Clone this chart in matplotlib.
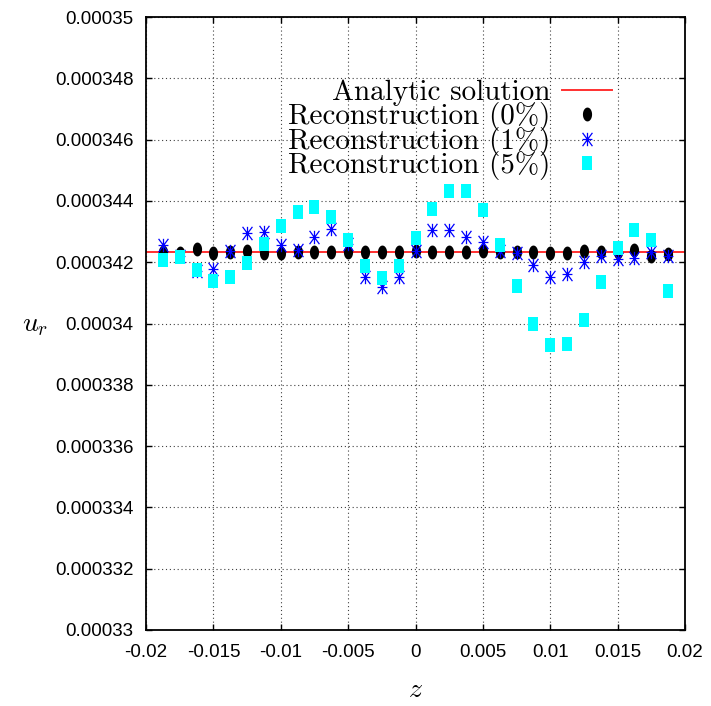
import matplotlib
matplotlib.use('Agg')
import matplotlib.pyplot as plt
import numpy as np
from matplotlib.path import Path
from matplotlib import font_manager
from matplotlib.font_manager import FontProperties

# ---------------- data ----------------
z = np.linspace(-0.01875, 0.01875, 31)
analytic_value = 3.42330e-4
u_rec_0 = [3.42330e-4, 3.42300e-4, 3.42430e-4, 3.42300e-4, 3.42320e-4, 3.42350e-4,
           3.42310e-4, 3.42310e-4, 3.42330e-4, 3.42330e-4, 3.42330e-4, 3.42330e-4,
           3.42320e-4, 3.42320e-4, 3.42340e-4, 3.42360e-4, 3.42330e-4, 3.42330e-4,
           3.42330e-4, 3.42360e-4, 3.42330e-4, 3.42330e-4, 3.42330e-4, 3.42310e-4,
           3.42310e-4, 3.42360e-4, 3.42330e-4, 3.42330e-4, 3.42410e-4, 3.42190e-4,
           3.42280e-4]
u_rec_1 = [3.42550e-4, 3.42200e-4, 3.41720e-4, 3.41780e-4, 3.42350e-4, 3.42960e-4,
           3.42980e-4, 3.42550e-4, 3.42410e-4, 3.42820e-4, 3.43070e-4, 3.42600e-4,
           3.41530e-4, 3.41180e-4, 3.41510e-4, 3.42380e-4, 3.43040e-4, 3.43040e-4,
           3.42820e-4, 3.42660e-4, 3.42350e-4, 3.42300e-4, 3.41910e-4, 3.41530e-4,
           3.41630e-4, 3.42000e-4, 3.42210e-4, 3.42110e-4, 3.42140e-4, 3.42320e-4,
           3.42190e-4]
u_rec_5 = [3.42060e-4, 3.42160e-4, 3.41730e-4, 3.41400e-4, 3.41510e-4, 3.41970e-4,
           3.42580e-4, 3.43180e-4, 3.43640e-4, 3.43800e-4, 3.43480e-4, 3.42710e-4,
           3.41860e-4, 3.41480e-4, 3.41860e-4, 3.42790e-4, 3.43750e-4, 3.44330e-4,
           3.44330e-4, 3.43700e-4, 3.42550e-4, 3.41210e-4, 3.40000e-4, 3.39300e-4,
           3.39320e-4, 3.40130e-4, 3.41340e-4, 3.42460e-4, 3.43040e-4, 3.42710e-4,
           3.41070e-4]
labels = ['Analytic solution', 'Reconstruction (0%)', 'Reconstruction (1%)',
          'Reconstruction (5%)']
xticks = [-0.02, -0.015, -0.01, -0.005, 0, 0.005, 0.01, 0.015, 0.02]
xticklabels = ['-0.02', '-0.015', '-0.01', '-0.005', '0', '0.005', '0.01', '0.015', '0.02']
yticks = [0.00033, 0.000332, 0.000334, 0.000336, 0.000338, 0.00034, 0.000342,
          0.000344, 0.000346, 0.000348, 0.00035]
yticklabels = ['0.00033', '0.000332', '0.000334', '0.000336', '0.000338', '0.00034',
               '0.000342', '0.000344', '0.000346', '0.000348', '0.00035']

# ---------------- fonts ----------------
plt.rcParams['mathtext.fontset'] = 'cm'
avail = {f.name for f in font_manager.fontManager.ttflist}
tick_family = 'Liberation Sans Narrow' if 'Liberation Sans Narrow' in avail else 'Liberation Sans'

# ---------------- markers ----------------
t = np.linspace(0, 2 * np.pi, 49)
ellipse = Path(np.c_[0.33 * np.cos(t), 0.5 * np.sin(t)], closed=True)
rect = Path([(-0.385, -0.5), (0.385, -0.5), (0.385, 0.5), (-0.385, 0.5), (-0.385, -0.5)],
            closed=True)
sx, sy = 0.37, 0.5
star = Path([(0, -sy), (0, sy), (-sx, 0), (sx, 0), (-sx, -sy), (sx, sy), (-sx, sy), (sx, -sy)],
            [Path.MOVETO, Path.LINETO] * 4)

# ---------------- figure ----------------
fig = plt.figure(figsize=(7.11, 7.06), dpi=100)
ax = fig.add_axes([146 / 711, 1 - 630 / 706, (685 - 146) / 711, (630 - 17) / 706])

ax.plot([-0.02, 0.02], [analytic_value, analytic_value], color='#ff3030', lw=1.4,
        label=labels[0], zorder=2)
ax.plot(z, u_rec_0, linestyle='none', marker=ellipse, ms=10, color='black',
        markeredgewidth=0, label=labels[1], zorder=3)
ax.plot(z, u_rec_1, linestyle='none', marker=star, ms=9.6, color='#0000ff',
        markerfacecolor='none', markeredgewidth=0.9, label=labels[2], zorder=4)
ax.plot(z, u_rec_5, linestyle='none', marker=rect, ms=9.6, color='#00ffff',
        markeredgewidth=0, label=labels[3], zorder=5)

ax.set_xlim(-0.02, 0.02)
ax.set_ylim(0.00033, 0.00035)
ax.set_xticks(xticks)
ax.set_xticklabels(xticklabels)
ax.set_yticks(yticks)
ax.set_yticklabels(yticklabels)
for lab in ax.get_xticklabels() + ax.get_yticklabels():
    lab.set_family(tick_family)
    lab.set_fontsize(13.5)
ax.tick_params(direction='in', length=4, width=1, top=True, right=True, pad=9)
ax.tick_params(axis='x', pad=10)

ax.grid(True, color='0.25', linestyle=(0, (1, 2.5)), lw=0.8)
for s in ax.spines.values():
    s.set_linewidth(1.3)

ax.set_xlabel(r'$z$', fontsize=20, labelpad=10)
ax.set_ylabel(r'$u_r$', fontsize=20, rotation=0, labelpad=14, va='center')

leg = ax.legend(loc='upper right', bbox_to_anchor=(0.87, 0.902), frameon=False,
                markerfirst=False, prop=FontProperties(family='cmr10', size=21),
                handlelength=1.71, handletextpad=0.41, labelspacing=-0.15,
                borderpad=0.1, borderaxespad=0)

fig.savefig('out.png', dpi=100)
